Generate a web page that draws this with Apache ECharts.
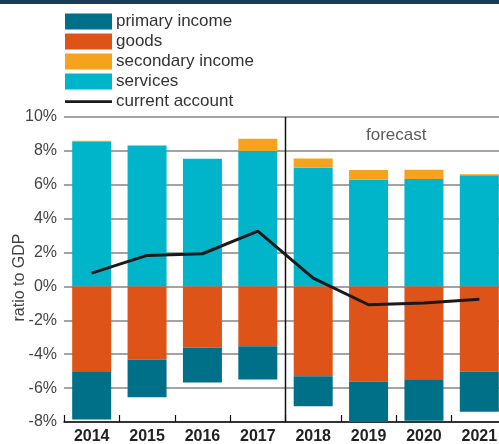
<!DOCTYPE html>
<html>
<head>
<meta charset="utf-8">
<script src="https://cdn.jsdelivr.net/npm/echarts@6/dist/echarts.min.js"></script>
<style>
html,body{margin:0;padding:0;background:#fff;}
#chart{width:499px;height:444px;}
</style>
</head>
<body>
<div id="chart"></div>
<script>
var years = ['2014','2015','2016','2017','2018','2019','2020','2021'];
var primaryIncome = [-2.85, -2.21, -2.05, -1.96, -1.77, -2.45, -2.46, -2.38];
var goods = [-5.00, -4.33, -3.62, -3.53, -5.30, -5.61, -5.47, -5.02];
var secondaryIncome = [0.08, 0.05, 0.00, 0.73, 0.55, 0.57, 0.55, 0.06];
var services = [8.52, 8.29, 7.54, 7.99, 7.00, 6.30, 6.34, 6.56];
var currentAccount = [0.79, 1.83, 1.93, 3.27, 0.49, -1.08, -0.98, -0.75];
var forecastStart = 4;           // category boundary index (between 2017 and 2018)
var forecastLabel = 'forecast';
var forecastLabelAt = [6, 8.9];
var yMin = -8, yMax = 10, yStep = 2;

var FONT = 'Liberation Sans, Arial, sans-serif';
var chart = echarts.init(document.getElementById('chart'), null, {renderer: 'canvas'});

var option = {
  animation: false,
  backgroundColor: '#ffffff',
  textStyle: {fontFamily: FONT},
  graphic: [{
    type: 'rect', left: 0, top: 0, shape: {width: 499, height: 4},
    style: {fill: '#1b3d5a'}, z: 100
  }],
  legend: {
    orient: 'vertical', left: 65, top: 13, padding: 0,
    itemWidth: 47, itemHeight: 16, itemGap: 3,
    icon: 'rect',
    textStyle: {fontSize: 17, lineHeight: 16, color: '#333', fontFamily: FONT, padding: [0,0,0,-1]},
    data: ['primary income', 'goods', 'secondary income', 'services',
           {name: 'current account', icon: 'path://M0,0 M0,16 M0,6.8 L47,6.8 L47,9.6 L0,9.6 Z'}]
  },
  grid: {left: 64, top: 117, width: 443, bottom: 22, containLabel: false, outerBoundsMode: 'none'},
  xAxis: [{
    type: 'category', data: years,
    axisLine: {show: true, lineStyle: {color: '#111', width: 1.5}, onZero: false},
    axisTick: {show: true, inside: true, length: 7, lineStyle: {color: '#111', width: 1.2}},
    axisLabel: {fontSize: 16, fontWeight: 'bold', color: '#222', margin: 7, fontFamily: FONT},
    splitLine: {show: false}
  }, {
    type: 'value', min: 0, max: 8, show: false
  }],
  yAxis: {
    type: 'value', min: yMin, max: yMax, interval: yStep,
    name: 'ratio to GDP', nameLocation: 'middle', nameRotate: 90, nameGap: 36,
    nameMoveOverlap: false,
    nameTextStyle: {fontSize: 16, color: '#444', fontFamily: FONT, padding: [0, 16, 0, 0]},
    axisLine: {show: false}, axisTick: {show: false},
    axisLabel: {fontSize: 16, color: '#444', margin: 7, formatter: '{value}%', fontFamily: FONT},
    splitLine: {show: true, lineStyle: {color: '#858585', width: 1.5}}
  },
  series: [
    {name: 'services', type: 'bar', stack: 'ca', data: services, barWidth: 39,
     itemStyle: {color: '#00b5c9'}},
    {name: 'secondary income', type: 'bar', stack: 'ca', data: secondaryIncome,
     itemStyle: {color: '#f5a21f'}},
    {name: 'goods', type: 'bar', stack: 'ca', data: goods,
     itemStyle: {color: '#de5318'}},
    {name: 'primary income', type: 'bar', stack: 'ca', data: primaryIncome,
     itemStyle: {color: '#006f88'}},
    {name: 'current account', type: 'line', data: currentAccount, symbol: 'none',
     lineStyle: {color: '#1a1a1a', width: 3}, itemStyle: {color: '#1a1a1a'}, z: 5},
    {name: 'divider', type: 'line', xAxisIndex: 1, symbol: 'none', silent: true,
     data: [[forecastStart, yMin], [forecastStart, yMax]],
     lineStyle: {color: '#111', width: 1.5}, z: 4},
    {name: 'forecastText', type: 'scatter', xAxisIndex: 1, symbolSize: 0, silent: true,
     data: [forecastLabelAt],
     label: {show: true, position: 'inside', formatter: forecastLabel, fontSize: 17,
             color: '#333', fontFamily: FONT}}
  ]
};
chart.setOption(option);
</script>
</body>
</html>
